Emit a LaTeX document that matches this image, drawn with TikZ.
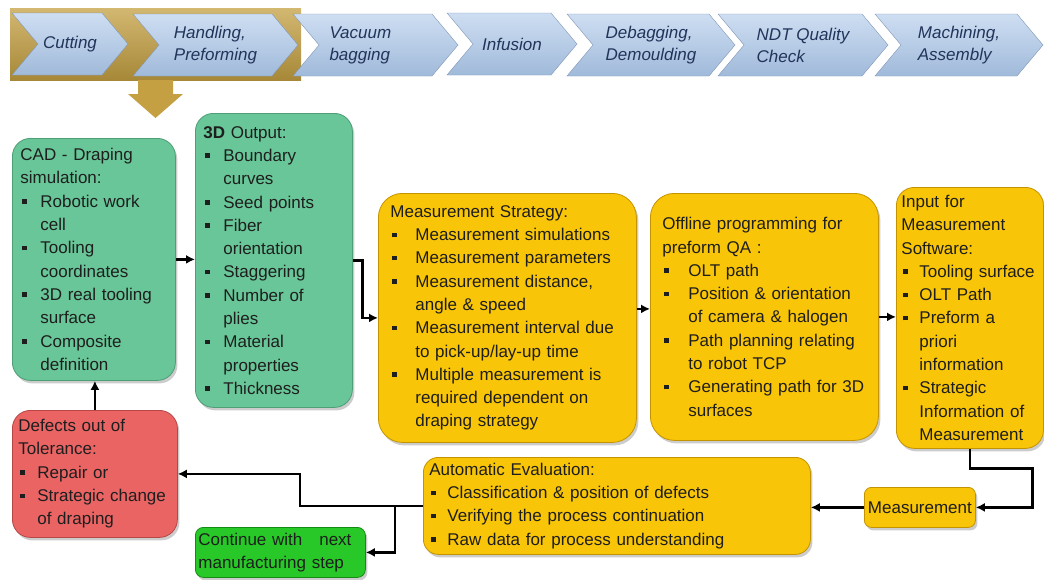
\documentclass[tikz,border=0pt]{standalone}
\usepackage{fontspec}
\setmainfont{Liberation Sans}
\usetikzlibrary{shapes.symbols,shadows,arrows.meta}

\definecolor{chevtop}{RGB}{206,222,242}
\definecolor{chevbot}{RGB}{160,186,218}
\definecolor{chevline}{RGB}{128,150,184}
\definecolor{chevtext}{RGB}{34,52,90}
\definecolor{gold}{RGB}{196,160,66}
\definecolor{simgreen}{RGB}{104,198,152}
\definecolor{simline}{RGB}{78,158,118}
\definecolor{qayellow}{RGB}{248,197,8}
\definecolor{qaline}{RGB}{196,148,0}
\definecolor{defred}{RGB}{234,100,100}
\definecolor{defline}{RGB}{184,70,70}
\definecolor{gogreen}{RGB}{40,200,40}
\definecolor{goline}{RGB}{20,140,20}
\definecolor{ink}{RGB}{30,30,30}

\newcommand{\bul}[1][20pt]{\makebox[#1][l]{\hspace{2pt}\rule[3.5pt]{4.5pt}{4.5pt}}\ignorespaces}
\newcommand{\ind}[1][20pt]{\hspace*{#1}\ignorespaces}

\begin{document}
\begin{tikzpicture}[x=1pt,y=-1pt,
    box/.style={rounded corners=18pt, line width=0.8pt, anchor=north west, align=left,
      inner ysep=0pt, text=ink, font=\fontsize{17}{23.3}\selectfont,
      drop shadow={shadow xshift=2pt,shadow yshift=-3pt,opacity=.4}},
    sim/.style={box, fill=simgreen, draw=simline},
    qa/.style={box, fill=qayellow, draw=qaline},
    chev/.style={signal, signal from=west, signal to=east, signal pointer angle=100,
      minimum height=62pt, inner sep=0pt, top color=chevtop, bottom color=chevbot,
      draw=chevline, text=chevtext, align=left, font=\fontsize{17}{22}\selectfont\itshape},
    conn/.style={line width=2.8pt, -{Latex[length=9pt,width=9pt]}}]
  \useasboundingbox (0,0) rectangle (1044,579);

  \shade[top color=gold!75!white, bottom color=gold!85!black] (10,8) rectangle (301,80);
  \fill[gold] (138,80) -- (173,80) -- (173,94) -- (183,94) -- (155.5,118) -- (128,94) -- (138,94) -- cycle;

  \node[chev, minimum width=116pt] (cut) at (70,44) {Cutting};
  \node[chev, minimum width=165pt] (hand) at (215.5,45) {Handling,\\Preforming};
  \node[chev, minimum width=165pt, text width=92pt] (vac) at (375.5,45) {Vacuum\\bagging};
  \node[chev, minimum width=130pt] (inf) at (512,44) {Infusion};
  \node[chev, minimum width=168pt] (deb) at (651,45) {Debagging,\\Demoulding};
  \node[chev, minimum width=170pt] (ndt) at (803,45) {NDT Quality\\Check};
  \node[chev, minimum width=168pt] (mach) at (959,45) {Machining,\\Assembly};

  \node[sim, text width=147pt, inner xsep=8pt, minimum height=242pt] (cad) at (12,138)
    {CAD - Draping\\simulation:\\\bul Robotic work\\\ind cell\\\bul Tooling\\\ind coordinates\\
     \bul 3D real tooling\\\ind surface\\\bul Composite\\\ind definition};
  \node[sim, text width=141pt, inner xsep=8pt, minimum height=294pt] (out) at (195,113)
    {\textbf{3D} Output:\\\bul Boundary\\\ind curves\\\bul Seed points\\\bul Fiber\\\ind orientation\\
     \bul Staggering\\\bul Number of\\\ind plies\\\bul Material\\\ind properties\\\bul Thickness};
  \node[qa, rounded corners=24pt, text width=234pt, inner xsep=12pt, minimum height=249pt] (ms) at (378,193)
    {Measurement Strategy:\\\bul[25pt] Measurement simulations\\\bul[25pt] Measurement parameters\\
     \bul[25pt] Measurement distance,\\\ind[25pt] angle \& speed\\\bul[25pt] Measurement interval due\\
     \ind[25pt] to pick-up/lay-up time\\\bul[25pt] Multiple measurement is\\\ind[25pt] required dependent on\\
     \ind[25pt] draping strategy};
  \node[qa, rounded corners=24pt, text width=204pt, inner xsep=12pt, minimum height=247pt] (op) at (650,193)
    {Offline programming for\\preform QA :\\\bul[26pt] OLT path\\\bul[26pt] Position \& orientation\\
     \ind[26pt] of camera \& halogen\\\bul[26pt] Path planning relating\\\ind[26pt] to robot TCP\\
     \bul[26pt] Generating path for 3D\\\ind[26pt] surfaces};
  \node[qa, text width=137pt, inner xsep=5pt, minimum height=261pt] (input) at (896,187)
    {Input for\\Measurement\\Software:\\\bul[18pt] Tooling surface\\\bul[18pt] OLT Path\\
     \bul[18pt] Preform a\\\ind[18pt] priori\\\ind[18pt] information\\\bul[18pt] Strategic\\
     \ind[18pt] Information of\\\ind[18pt] Measurement};
  \node[box, fill=defred, draw=defline, text width=153pt, inner xsep=6pt, minimum height=127pt] (def) at (12,410)
    {Defects out of\\Tolerance:\\\bul[19pt] Repair or\\\bul[19pt] Strategic change\\\ind[19pt] of draping};
  \node[box, rounded corners=8pt, fill=gogreen, draw=goline, text width=164pt, inner xsep=3pt, minimum height=50pt] (cont) at (195,527)
    {Continue with\ \ \ next\\manufacturing step};
  \node[qa, rounded corners=15pt, text width=375pt, inner xsep=6pt, minimum height=97pt] (ae) at (423,457)
    {Automatic Evaluation:\\\bul[18pt] Classification \& position of defects\\
     \bul[18pt] Verifying the process continuation\\\bul[18pt] Raw data for process understanding};
  \node[qa, rounded corners=7pt, text width=105pt, inner xsep=3pt, minimum height=40pt, align=center] (meas) at (864,487)
    {Measurement};

  \draw[conn] (cad.east) -- (cad.east -| out.west);
  \draw[conn] (out.east) -- ++(10,0) |- (ms.west);
  \draw[conn] ([yshift=9pt]ms.east) -- ([yshift=9pt]ms.east -| op.west);
  \draw[conn] (op.east) -- (op.east -| input.west);
  \draw[conn] (input.south) -- ++(0,20) -| ([xshift=57pt]meas.east) -- (meas.east);
  \draw[conn] (meas.west) -- (meas.west -| ae.east);
  \draw[conn] (ae.west) -- ++(-123,0) |- (def.east);
  \draw[conn] (ae.west) ++(-28,0) coordinate (split) |- (cont.east);
  \draw[conn] (def.north) -- (def.north |- cad.south);
\end{tikzpicture}
\end{document}
